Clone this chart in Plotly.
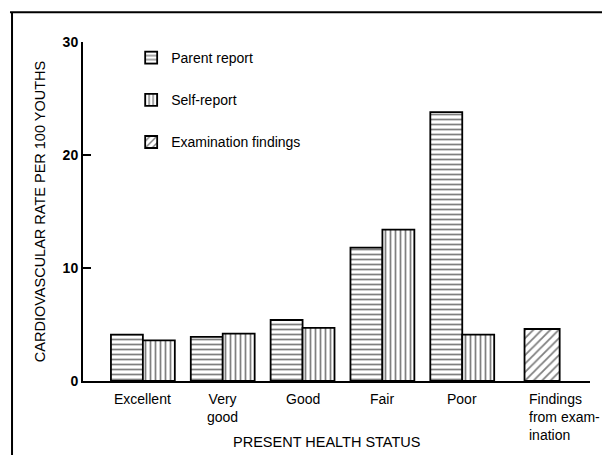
import plotly.graph_objects as go

# -----------------------------
# Datos
# -----------------------------
categorias = ["Excellent", "Very<br>good", "Good", "Fair", "Poor",
              "Findings<br>from exam-<br>ination"]
parent_report = [4.1, 3.9, 5.4, 11.8, 23.8]
self_report = [3.6, 4.2, 4.7, 13.4, 4.1]
examination = [4.6]

series_nombres = ["Parent report", "Self-report", "Examination findings"]
y_ticks = [0, 10, 20, 30]

FUENTE = "Liberation Sans, Arial, sans-serif"
ancho = 0.4
posiciones = list(range(len(categorias)))

fig = go.Figure()

estilo = dict(color="white", line=dict(color="black", width=1.8))

fig.add_trace(go.Bar(
    x=posiciones[:5], y=parent_report, name=series_nombres[0],
    width=ancho, offset=-ancho,
    marker=dict(**estilo, pattern=dict(shape="-", fgcolor="black", size=5, solidity=0.35)),
    legendgroup="a",
))
fig.add_trace(go.Bar(
    x=posiciones[:5], y=self_report, name=series_nombres[1],
    width=ancho, offset=0,
    marker=dict(**estilo, pattern=dict(shape="|", fgcolor="black", size=5, solidity=0.35)),
    legendgroup="b",
))
fig.add_trace(go.Bar(
    x=posiciones[5:], y=examination, name=series_nombres[2],
    width=0.44, offset=-0.22,
    marker=dict(**estilo, pattern=dict(shape="/", fgcolor="black", size=6, solidity=0.3)),
    legendgroup="c",
))

# etiquetas del eje x (la última alineada a la izquierda)
for i, txt in enumerate(categorias):
    ultimo = i == len(categorias) - 1
    fig.add_annotation(
        x=i - 0.19 if ultimo else i, y=0, yref="y", xref="x",
        text=txt, showarrow=False,
        xanchor="left" if ultimo else "center", yanchor="top",
        align="left" if ultimo else "center",
        yshift=-8, font=dict(size=14, color="black", family=FUENTE),
    )

fig.add_annotation(
    x=0.48, y=-0.15, xref="paper", yref="paper",
    text="PRESENT HEALTH STATUS", showarrow=False,
    xanchor="center", yanchor="top",
    font=dict(size=14.5, color="black", family=FUENTE),
)

# marco (solo borde superior e izquierdo, como en el original)
fig.add_shape(type="line", xref="paper", yref="paper",
              x0=-0.14, x1=-0.14, y0=-0.25, y1=1.088,
              line=dict(color="black", width=2))
fig.add_shape(type="line", xref="paper", yref="paper",
              x0=-0.144, x1=1.05, y0=1.088, y1=1.088,
              line=dict(color="black", width=2))

# la página deja 8 px de margen: la figura ocupa 602x447
fig.update_layout(
    width=602, height=447,
    margin=dict(l=75, r=20, t=34, b=74),
    plot_bgcolor="white", paper_bgcolor="white",
    font=dict(family=FUENTE, color="black", size=14),
    barmode="overlay",
    showlegend=True,
    legend=dict(
        x=0.095, y=1.0, xanchor="left", yanchor="top",
        font=dict(size=14, color="black"),
        tracegroupgap=21, bgcolor="rgba(0,0,0,0)",
    ),
    xaxis=dict(
        range=[-0.75, 5.6], showticklabels=False, ticks="",
        showgrid=False, zeroline=False,
        showline=True, linecolor="black", linewidth=2,
        fixedrange=True,
    ),
    yaxis=dict(
        range=[0, 30], tickvals=y_ticks, ticks="inside", ticklen=8,
        tickwidth=2, tickcolor="black",
        showgrid=False, zeroline=False,
        showline=True, linecolor="black", linewidth=2,
        tickfont=dict(size=14, color="black", family="Liberation Sans, Arial", weight="bold"),
        title=dict(text="CARDIOVASCULAR RATE PER 100 YOUTHS",
                   font=dict(size=14.5, color="black"), standoff=14),
        fixedrange=True,
    ),
)

fig.write_html("out.html")
